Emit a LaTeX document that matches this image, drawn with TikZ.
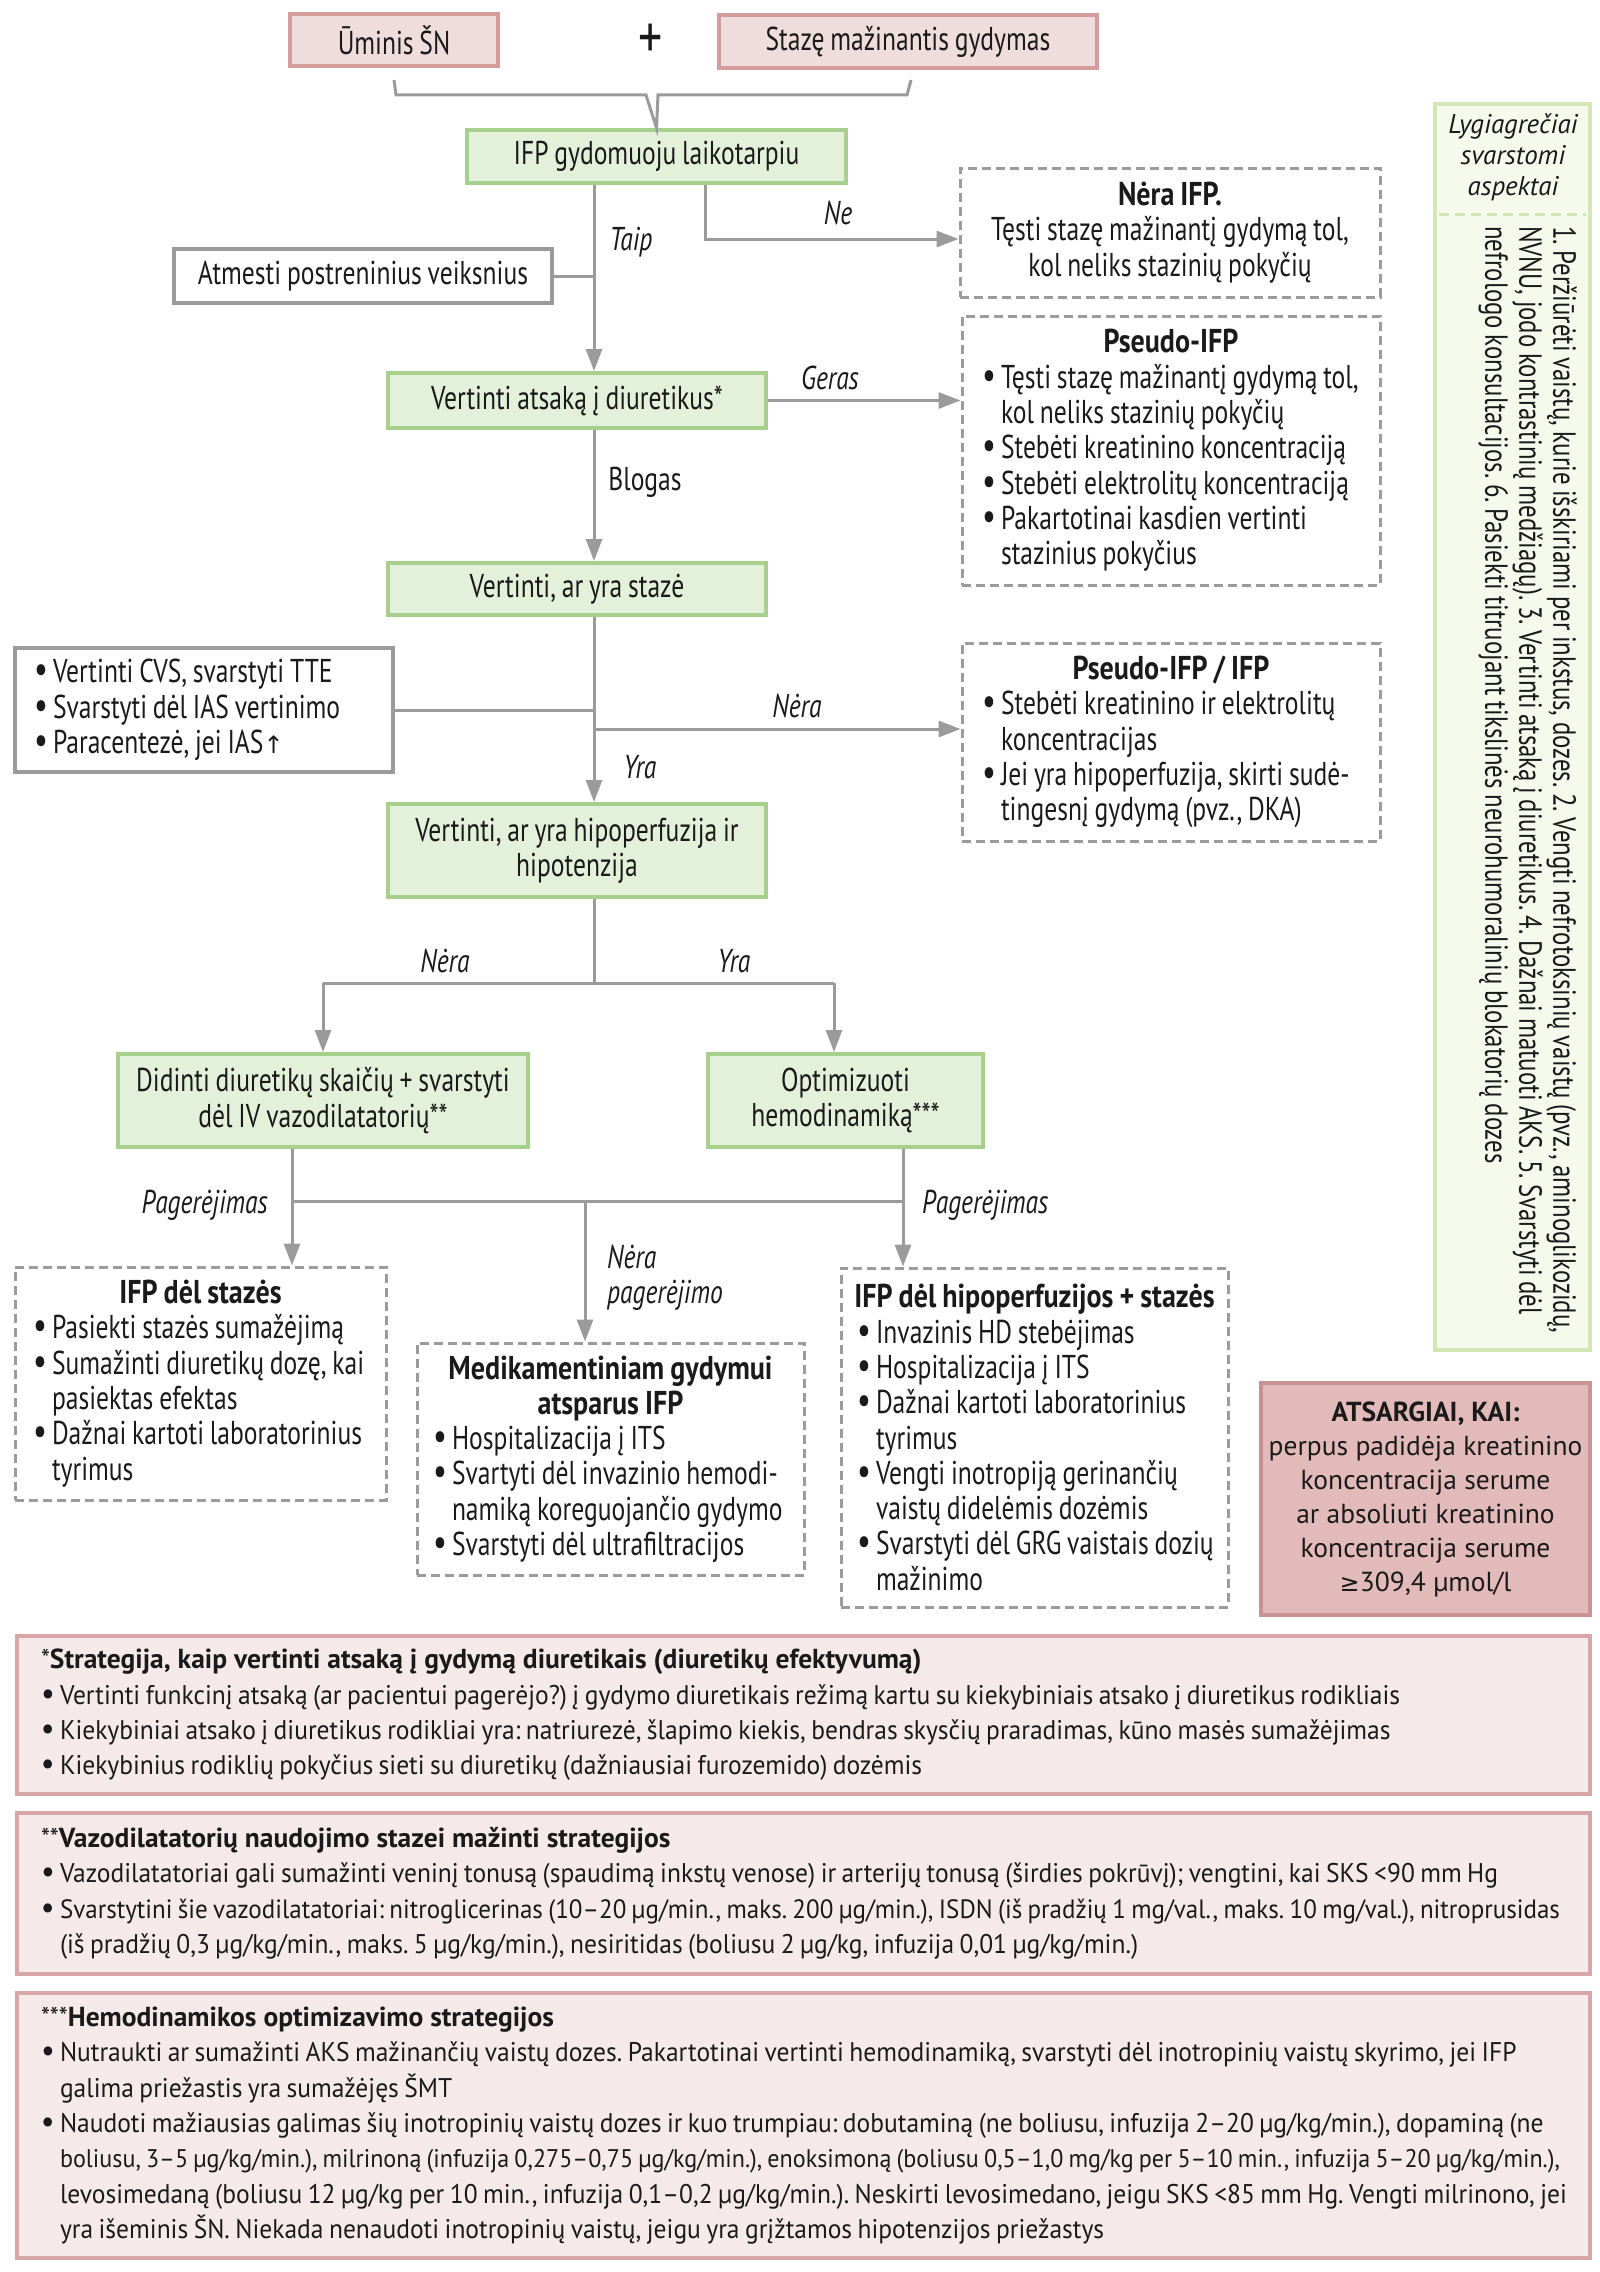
\documentclass[tikz,border=0pt]{standalone}
\usepackage{fontspec}
\setmainfont{PT Sans}[FakeStretch=0.775, WordSpace=0.85, BoldFeatures={FakeStretch=0.85}]
\newfontfamily\notefam{PT Sans}[FakeStretch=0.945, WordSpace=0.8]
\newfontfamily\widefam{PT Sans}[FakeStretch=1.0]
\newfontfamily\symfont{DejaVu Sans}
\usetikzlibrary{arrows.meta}
\definecolor{txt}{HTML}{1A1A1A}
\definecolor{pinkF}{HTML}{EFDCDC}
\definecolor{pinkB}{HTML}{D59C9C}
\definecolor{atsF}{HTML}{E3BABA}
\definecolor{atsB}{HTML}{C99393}
\definecolor{noteF}{HTML}{F6E9E9}
\definecolor{noteB}{HTML}{D8A6A6}
\definecolor{grnF}{HTML}{E3F0DA}
\definecolor{grnB}{HTML}{A8D08D}
\definecolor{lygF}{HTML}{F5FAEC}
\definecolor{lygB}{HTML}{D3E7B5}
\definecolor{grayL}{HTML}{9B9B9B}
\newcommand\bul{\makebox[19pt][l]{\smash{\scalebox{1.2}{•}}}}
\newcommand\cnt{\hspace*{19pt}}
\newcommand\ttl[1]{\makebox[\linewidth][c]{\bfseries #1}}
\newcommand\ntitle[1]{{\widefam\bfseries\fontsize{27.5}{35.3}\selectfont #1}}
\tikzset{
  boxfont/.style={font=\fontsize{33}{35.3}\selectfont},
  notefont/.style={font=\notefam\fontsize{27}{35.3}\selectfont},
  allbox/.style={inner sep=0pt, text=txt, boxfont},
  pinkbox/.style={allbox, draw=pinkB, fill=pinkF, line width=4pt, align=center},
  greenbox/.style={allbox, draw=grnB, fill=grnF, line width=4pt, align=center},
  dashbox/.style={allbox, draw=grayL, fill=white, line width=3pt, dash pattern=on 9pt off 5pt, align=flush left},
  solidbox/.style={allbox, draw=grayL, fill=white, line width=4pt, align=flush left},
  notebox/.style={allbox, notefont, draw=noteB, fill=noteF, line width=4pt, align=flush left, inner xsep=24pt, text width=1525pt},
  conn/.style={draw=grayL, line width=3pt},
  arr/.style={conn, -{Triangle[length=22pt,width=16pt]}},
  lbl/.style={text=txt, inner sep=0pt, font=\fontsize{33}{35.3}\selectfont\itshape},
  lblup/.style={text=txt, inner sep=0pt, font=\fontsize{33}{35.3}\selectfont},
}
\begin{document}
\frenchspacing
\begin{tikzpicture}[x=1pt,y=-1pt]
\useasboundingbox (0,0) rectangle (1600,2272);
% x positions of vertical lines
\coordinate (xA) at (594,0);
\coordinate (xNe) at (705,0);
\coordinate (xL) at (292,0);
\coordinate (xR) at (903,0);
\coordinate (xM) at (585,0);
\coordinate (xOpt) at (834,0);
\coordinate (yNe) at (0,239);
\coordinate (yNera) at (0,729);
\coordinate (ySplit) at (0,983);
\coordinate (yJoin) at (0,1201);

% top
\node[pinkbox, minimum width=208pt, minimum height=52pt] (um) at (394,40) {Ūminis ŠN};
\node[text=txt, inner sep=0pt, font=\fontsize{62}{62}\selectfont] (plus) at (651,41) {+};
\node[pinkbox, minimum width=378pt, minimum height=53pt] (stz) at (908,41.5) {Stazę mažinantis gydymas};
\node[greenbox, minimum width=379pt, minimum height=53pt] (ifp) at (656.5,156.5) {IFP gydomuoju laikotarpiu};
\draw[conn, line join=miter] (394,80) -- (396,95) -- (646,95) -- (ifp.north) -- (658,95) -- (907,95) -- (911,80);

% right column
\node[dashbox, minimum width=420pt, minimum height=129pt, align=center] (nera) at (1170,232.5)
  {{\bfseries Nėra IFP.}\\Tęsti stazę mažinantį gydymą tol,\\kol neliks stazinių pokyčių};
\node[dashbox, text width=378pt, inner xsep=20pt, minimum height=269pt] (pifp) at (1171,450.5)
  {\ttl{Pseudo-IFP}\\
   \bul\mbox{Tęsti stazę mažinantį gydymą tol,}\\
   \cnt kol neliks stazinių pokyčių\\
   \bul\mbox{Stebėti kreatinino koncentraciją}\\
   \bul\mbox{Stebėti elektrolitų koncentraciją}\\
   \bul Pakartotinai kasdien vertinti\\
   \cnt stazinius pokyčius};
\node[dashbox, text width=378pt, inner xsep=20pt, minimum height=198pt] (pifp2) at (1171,742)
  {\ttl{Pseudo-IFP / IFP}\\
   \bul\mbox{Stebėti kreatinino ir elektrolitų}\\
   \cnt koncentracijas\\
   \bul\mbox{Jei yra hipoperfuzija, skirti sudė-}\\
   \cnt tingesnį gydymą (pvz., DKA)};

% middle column
\node[solidbox, minimum width=378pt, minimum height=54pt, align=center] (atm) at (363,276) {Atmesti postreninius veiksnius};
\node[greenbox, minimum width=378pt, minimum height=55pt] (vad) at (577,400.5) {Vertinti atsaką į diuretikus*};
\node[greenbox, minimum width=378pt, minimum height=52pt] (vs) at (577,589) {Vertinti, ar yra stazė};
\node[solidbox, text width=340pt, inner xsep=19pt, minimum height=124pt] (cvs) at (204,710)
  {\bul Vertinti CVS, svarstyti TTE\\
   \bul Svarstyti dėl IAS vertinimo\\
   \bul Paracentezė, jei IAS{\symfont\fontsize{24}{30}\selectfont ↑}};
\node[greenbox, minimum width=378pt, minimum height=93pt] (vh) at (577,850.5) {Vertinti, ar yra hipoperfuzija ir\\hipotenzija};
\node[greenbox, minimum width=410pt, minimum height=93pt] (did) at (323,1100.5) {Didinti diuretikų skaičių + svarstyti\\dėl IV vazodilatatorių**};
\node[greenbox, minimum width=275pt, minimum height=93pt] (opt) at (845.5,1100.5) {Optimizuoti\\hemodinamiką***};

\node[dashbox, text width=335pt, inner xsep=18pt, minimum height=233pt] (ifpst) at (200.5,1383.5)
  {\ttl{IFP dėl stazės}\\
   \bul\mbox{Pasiekti stazės sumažėjimą}\\
   \bul\mbox{Sumažinti diuretikų dozę, kai}\\
   \cnt pasiektas efektas\\
   \bul\mbox{Dažnai kartoti laboratorinius}\\
   \cnt tyrimus};
\node[dashbox, text width=355pt, inner xsep=16pt, minimum height=232pt] (med) at (610.5,1459)
  {\ttl{Medikamentiniam gydymui}\\
   \ttl{atsparus IFP}\\
   \bul\mbox{Hospitalizacija į ITS}\\
   \bul\mbox{Svartyti dėl invazinio hemodi-}\\
   \cnt\mbox{namiką koreguojančio gydymo}\\
   \bul\mbox{Svarstyti dėl ultrafiltracijos}};
\node[dashbox, text width=355pt, inner xsep=16pt, minimum height=339pt] (hip) at (1034.5,1437.5)
  {\ttl{IFP dėl hipoperfuzijos + stazės}\\
   \bul\mbox{Invazinis HD stebėjimas}\\
   \bul\mbox{Hospitalizacija į ITS}\\
   \bul\mbox{Dažnai kartoti laboratorinius}\\
   \cnt tyrimus\\
   \bul\mbox{Vengti inotropiją gerinančių}\\
   \cnt\mbox{vaistų didelėmis dozėmis}\\
   \bul\mbox{Svarstyti dėl GRG vaistais dozių}\\
   \cnt mažinimo};

\node[allbox, draw=atsB, fill=atsF, line width=4pt, minimum width=329pt, minimum height=232pt, align=center,
      font=\widefam\fontsize{27.5}{34}\selectfont] (ats) at (1425.5,1499)
  {{\bfseries ATSARGIAI, KAI:}\\perpus padidėja kreatinino\\koncentracija serume\\ar absoliuti kreatinino\\koncentracija serume\\{\symfont\fontsize{24}{30}\selectfont ≥}309,4 µmol/l};

% right tall box
\node[allbox, draw=lygB, fill=lygF, line width=4pt, minimum width=155pt, minimum height=1246pt] (lyg) at (1512.5,727) {};
\node[text=txt, inner sep=0pt, align=center, font=\widefam\itshape\fontsize{27}{31}\selectfont] (lyghd) at (1513,157)
  {Lygiagrečiai\\svarstomi\\aspektai};
\draw[draw=lygB, line width=3pt, dash pattern=on 10pt off 6pt] (lyg.west |- 0,214) ++(6,0) -- ([xshift=-6pt]lyg.east |- 0,214);
\node[text=txt, inner sep=0pt, rotate=-90, anchor=north west, align=left, font=\fontsize{32}{34}\selectfont] (lygtx) at (1577,226)
  {1. Peržiūrėti vaistų, kurie išskiriami per inkstus, dozes. 2. Vengti nefrotoksinių vaistų (pvz., aminoglikozidų,\\
   NVNU, jodo kontrastinių medžiagų). 3. Vertinti atsaką į diuretikus. 4. Dažnai matuoti AKS. 5. Svarstyti dėl\\
   nefrologo konsultacijos. 6. Pasiekti titruojant tikslinės neurohumoralinių blokatorių dozes};

% notes
\node[notebox, minimum height=158pt] (n1) at (803.5,1715)
  {*\ntitle{Strategija, kaip vertinti atsaką į gydymą diuretikais (diuretikų efektyvumą)}\\
   \bul\mbox{Vertinti funkcinį atsaką (ar pacientui pagerėjo?) į gydymo diuretikais režimą kartu su kiekybiniais atsako į diuretikus rodikliais}\\
   \bul\mbox{Kiekybiniai atsako į diuretikus rodikliai yra: natriurezė, šlapimo kiekis, bendras skysčių praradimas, kūno masės sumažėjimas}\\
   \bul\mbox{Kiekybinius rodiklių pokyčius sieti su diuretikų (dažniausiai furozemido) dozėmis}};
\node[notebox, minimum height=161pt] (n2) at (803.5,1893.5)
  {**\ntitle{Vazodilatatorių naudojimo stazei mažinti strategijos}\\
   \bul\mbox{Vazodilatatoriai gali sumažinti veninį tonusą (spaudimą inkstų venose) ir arterijų tonusą (širdies pokrūvį); vengtini, kai SKS <90 mm Hg}\\
   \bul\resizebox{1500pt}{!}{Svarstytini šie vazodilatatoriai: nitroglicerinas (10–20 µg/min., maks. 200 µg/min.), ISDN (iš pradžių 1 mg/val., maks. 10 mg/val.), nitroprusidas}\\
   \cnt\mbox{(iš pradžių 0,3 µg/kg/min., maks. 5 µg/kg/min.), nesiritidas (boliusu 2 µg/kg, infuzija 0,01 µg/kg/min.)}};
\node[notebox, minimum height=265pt] (n3) at (803.5,2125.5)
  {***\ntitle{Hemodinamikos optimizavimo strategijos}\\
   \bul\mbox{Nutraukti ar sumažinti AKS mažinančių vaistų dozes. Pakartotinai vertinti hemodinamiką, svarstyti dėl inotropinių vaistų skyrimo, jei IFP}\\
   \cnt\mbox{galima priežastis yra sumažėjęs ŠMT}\\
   \bul\mbox{Naudoti mažiausias galimas šių inotropinių vaistų dozes ir kuo trumpiau: dobutaminą (ne boliusu, infuzija 2–20 µg/kg/min.), dopaminą (ne}\\
   \cnt\resizebox{1500pt}{!}{boliusu, 3–5 µg/kg/min.), milrinoną (infuzija 0,275–0,75 µg/kg/min.), enoksimoną (boliusu 0,5–1,0 mg/kg per 5–10 min., infuzija 5–20 µg/kg/min.),}\\
   \cnt\mbox{levosimedaną (boliusu 12 µg/kg per 10 min., infuzija 0,1–0,2 µg/kg/min.). Neskirti levosimedano, jeigu SKS <85 mm Hg. Vengti milrinono, jei}\\
   \cnt\mbox{yra išeminis ŠN. Niekada nenaudoti inotropinių vaistų, jeigu yra grįžtamos hipotenzijos priežastys}};

% connectors
\draw[arr] (ifp.south -| xA) -- (vad.north -| xA);
\draw[conn] (atm.east) -- (atm.east -| xA);
\draw[arr] (ifp.south -| xNe) -- (xNe |- yNe) -- (nera.west |- yNe);
\draw[arr] (vad.east) -- (pifp.west |- vad.east);
\draw[arr] (vad.south -| xA) -- (vs.north -| xA);
\draw[arr] (vs.south -| xA) -- (vh.north -| xA);
\draw[conn] (cvs.east) -- (cvs.east -| xA);
\draw[arr] (xA |- yNera) -- (pifp2.west |- yNera);
\draw[conn] (vh.south -| xA) -- (xA |- ySplit);
\draw[arr] (did.north |- ySplit) -- (did.north);
\draw[arr] (xOpt |- ySplit) -- (opt.north -| xOpt);
\draw[conn] (did.north |- ySplit) -- (xOpt |- ySplit);
\draw[arr] (did.south -| xL) -- (ifpst.north -| xL);
\draw[arr] (opt.south -| xR) -- (hip.north -| xR);
\draw[conn] (xL |- yJoin) -- (xR |- yJoin);
\draw[arr] (xM |- yJoin) -- (med.north -| xM);

% labels
\node[lbl] (lNe) at (838,213) {Ne};
\node[lbl] (lTaip) at (631,242) {Taip};
\node[lbl] (lGeras) at (830,378) {Geras};
\node[lblup] (lBlogas) at (645,482) {Blogas};
\node[lbl] (lNera1) at (797,706) {Nėra};
\node[lbl] (lYra1) at (640,767) {Yra};
\node[lbl] (lNera2) at (445,961) {Nėra};
\node[lbl] (lYra2) at (734,961) {Yra};
\node[lbl, anchor=east] (lPag1) at (268,1205) {Pagerėjimas};
\node[lbl, anchor=west] (lPag2) at (922,1205) {Pagerėjimas};
\node[lbl, anchor=west, align=left] (lNp) at (607,1278) {Nėra\\pagerėjimo};
\end{tikzpicture}
\end{document}
